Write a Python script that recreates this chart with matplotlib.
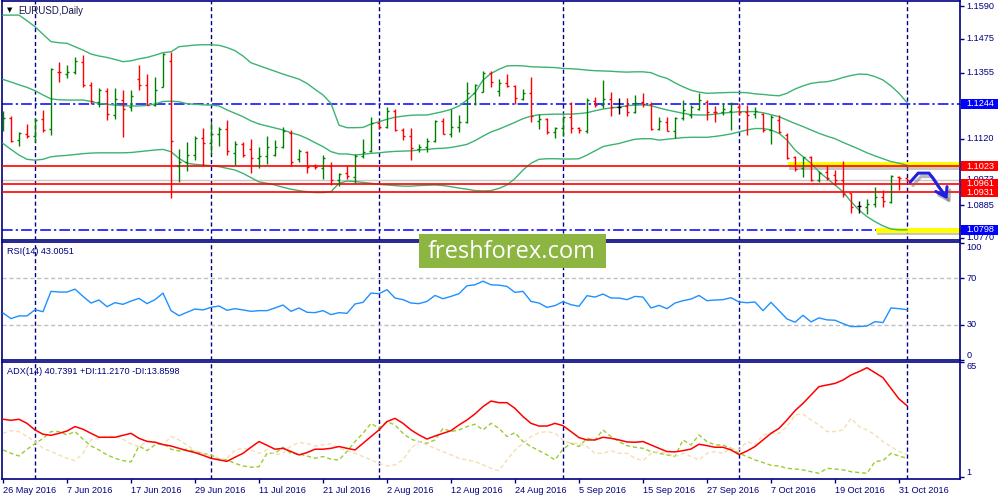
import matplotlib
matplotlib.use('Agg')
import matplotlib.pyplot as plt
import matplotlib.patheffects as pe
from matplotlib.patches import Rectangle
import numpy as np
import pandas as pd

plt.rcParams['font.family'] = ['Liberation Sans', 'DejaVu Sans']

# EURUSD daily bars, 26 May 2016 .. 1 Nov 2016
dates = pd.bdate_range('2016-05-26', '2016-11-01')

open_ = [1.1170, 1.1195, 1.1116, 1.1136, 1.1130, 1.1190, 1.1155, 1.1357, 1.1352, 1.1358,
         1.1394, 1.1313, 1.1251, 1.1291, 1.1205, 1.1258, 1.1234, 1.1334, 1.1312, 1.1241,
         1.1305, 1.1395, 1.1025, 1.1038, 1.1065, 1.1123, 1.1104, 1.1136, 1.1155, 1.1072,
         1.1102, 1.1084, 1.1051, 1.1059, 1.1062, 1.1091, 1.1142, 1.1050, 1.1075, 1.1025,
         1.1016, 1.1025, 1.0974, 1.1000, 1.0985, 1.1060, 1.1077, 1.1178, 1.1162, 1.1220,
         1.1152, 1.1130, 1.1085, 1.1090, 1.1112, 1.1182, 1.1136, 1.1161, 1.1181, 1.1282,
         1.1288, 1.1355, 1.1290, 1.1320, 1.1307, 1.1262, 1.1284, 1.1185, 1.1190, 1.1146,
         1.1158, 1.1197, 1.1158, 1.1149, 1.1256, 1.1240, 1.1260, 1.1234, 1.1238, 1.1217,
         1.1250, 1.1244, 1.1154, 1.1181, 1.1149, 1.1193, 1.1205, 1.1225, 1.1252, 1.1217,
         1.1217, 1.1219, 1.1234, 1.1217, 1.1207, 1.1207, 1.1152, 1.1187, 1.1134, 1.1055,
         1.1016, 1.1055, 1.0975, 1.1004, 1.0992, 1.0975, 1.0930, 1.0882, 1.0880, 1.0889,
         1.0915, 1.0897, 1.0986, 1.0980]
high = [1.1219, 1.1200, 1.1144, 1.1173, 1.1196, 1.1221, 1.1370, 1.1392, 1.1382, 1.1410,
        1.1416, 1.1323, 1.1301, 1.1299, 1.1299, 1.1295, 1.1295, 1.1383, 1.1349, 1.1338,
        1.1423, 1.1428, 1.1084, 1.1110, 1.1131, 1.1160, 1.1179, 1.1163, 1.1189, 1.1114,
        1.1108, 1.1120, 1.1091, 1.1129, 1.1118, 1.1164, 1.1151, 1.1085, 1.1078, 1.1031,
        1.1063, 1.1039, 1.0998, 1.1028, 1.1066, 1.1119, 1.1199, 1.1184, 1.1232, 1.1225,
        1.1160, 1.1160, 1.1102, 1.1122, 1.1187, 1.1193, 1.1225, 1.1205, 1.1321, 1.1314,
        1.1362, 1.1362, 1.1331, 1.1352, 1.1312, 1.1296, 1.1341, 1.1208, 1.1193, 1.1164,
        1.1201, 1.1252, 1.1164, 1.1264, 1.1270, 1.1329, 1.1285, 1.1266, 1.1264, 1.1276,
        1.1282, 1.1252, 1.1199, 1.1199, 1.1199, 1.1258, 1.1240, 1.1282, 1.1258, 1.1237,
        1.1246, 1.1250, 1.1246, 1.1240, 1.1234, 1.1211, 1.1205, 1.1205, 1.1140, 1.1060,
        1.1057, 1.1060, 1.1008, 1.1028, 1.1010, 1.1042, 1.0930, 1.0901, 1.0907, 1.0951,
        1.0939, 1.0992, 1.0989, 1.0980]
low = [1.1149, 1.1110, 1.1096, 1.1124, 1.1110, 1.1143, 1.1135, 1.1323, 1.1337, 1.1352,
       1.1304, 1.1244, 1.1233, 1.1189, 1.1190, 1.1128, 1.1220, 1.1293, 1.1241, 1.1236,
       1.1305, 1.0912, 1.0968, 1.1007, 1.1045, 1.1025, 1.1066, 1.1096, 1.1062, 1.1029,
       1.1057, 1.1001, 1.1018, 1.1033, 1.1058, 1.1088, 1.1025, 1.1038, 1.1000, 1.1014,
       1.0979, 1.0957, 1.0953, 1.0977, 1.0963, 1.1051, 1.1075, 1.1155, 1.1160, 1.1148,
       1.1116, 1.1045, 1.1075, 1.1075, 1.1110, 1.1136, 1.1128, 1.1146, 1.1178, 1.1239,
       1.1285, 1.1303, 1.1272, 1.1305, 1.1244, 1.1258, 1.1181, 1.1156, 1.1136, 1.1122,
       1.1130, 1.1140, 1.1140, 1.1142, 1.1234, 1.1229, 1.1201, 1.1208, 1.1202, 1.1213,
       1.1234, 1.1152, 1.1152, 1.1148, 1.1122, 1.1187, 1.1193, 1.1223, 1.1187, 1.1181,
       1.1205, 1.1152, 1.1205, 1.1134, 1.1193, 1.1146, 1.1101, 1.1140, 1.1048, 1.1008,
       1.0986, 1.0972, 1.0966, 1.0975, 1.0957, 1.0916, 1.0859, 1.0859, 1.0853, 1.0880,
       1.0880, 1.0894, 1.0939, 1.0971]
close = [1.1193, 1.1114, 1.1140, 1.1131, 1.1189, 1.1151, 1.1368, 1.1356, 1.1358, 1.1395,
         1.1312, 1.1254, 1.1293, 1.1208, 1.1261, 1.1225, 1.1274, 1.1310, 1.1242, 1.1295,
         1.1420, 1.1112, 1.1037, 1.1065, 1.1123, 1.1104, 1.1136, 1.1155, 1.1077, 1.1102,
         1.1062, 1.1051, 1.1059, 1.1092, 1.1092, 1.1149, 1.1039, 1.1078, 1.1021, 1.1019,
         1.1051, 1.0974, 1.0996, 1.0990, 1.1060, 1.1075, 1.1178, 1.1164, 1.1220, 1.1152,
         1.1130, 1.1088, 1.1090, 1.1114, 1.1182, 1.1136, 1.1161, 1.1181, 1.1282, 1.1311,
         1.1355, 1.1323, 1.1320, 1.1307, 1.1264, 1.1284, 1.1201, 1.1190, 1.1146, 1.1158,
         1.1197, 1.1158, 1.1152, 1.1258, 1.1240, 1.1260, 1.1232, 1.1234, 1.1217, 1.1246,
         1.1244, 1.1154, 1.1185, 1.1149, 1.1193, 1.1223, 1.1234, 1.1258, 1.1214, 1.1214,
         1.1225, 1.1243, 1.1217, 1.1205, 1.1219, 1.1152, 1.1199, 1.1146, 1.1051, 1.1012,
         1.1055, 1.0975, 1.1001, 1.0983, 1.0975, 1.0924, 1.0880, 1.0882, 1.0889, 1.0915,
         1.0900, 1.0989, 1.0980, 1.0975]

# Bollinger bands (20)
bb_upper = [1.1559, 1.1559, 1.1559, 1.1539, 1.1518, 1.1491, 1.1465, 1.1461, 1.1459, 1.1447,
            1.1435, 1.1421, 1.1414, 1.1409, 1.1402, 1.1394, 1.1397, 1.1404, 1.1409, 1.1417,
            1.1426, 1.1429, 1.1447, 1.1450, 1.1453, 1.1454, 1.1454, 1.1452, 1.1444, 1.1433,
            1.1414, 1.1390, 1.1380, 1.1370, 1.1360, 1.1350, 1.1341, 1.1332, 1.1317, 1.1296,
            1.1276, 1.1246, 1.1169, 1.1160, 1.1160, 1.1161, 1.1173, 1.1181, 1.1190, 1.1197,
            1.1201, 1.1204, 1.1205, 1.1205, 1.1211, 1.1217, 1.1225, 1.1237, 1.1258, 1.1284,
            1.1329, 1.1352, 1.1367, 1.1379, 1.1380, 1.1379, 1.1376, 1.1375, 1.1374, 1.1373,
            1.1370, 1.1369, 1.1367, 1.1364, 1.1362, 1.1361, 1.1360, 1.1358, 1.1357, 1.1358,
            1.1358, 1.1355, 1.1343, 1.1335, 1.1319, 1.1305, 1.1293, 1.1286, 1.1282, 1.1283,
            1.1284, 1.1285, 1.1285, 1.1284, 1.1280, 1.1278, 1.1275, 1.1273, 1.1282, 1.1297,
            1.1308, 1.1317, 1.1321, 1.1323, 1.1329, 1.1338, 1.1345, 1.1350, 1.1349, 1.1341,
            1.1329, 1.1308, 1.1282, 1.1249]
bb_middle = [1.1331, 1.1322, 1.1312, 1.1303, 1.1291, 1.1276, 1.1262, 1.1259, 1.1258, 1.1258,
             1.1258, 1.1253, 1.1246, 1.1243, 1.1240, 1.1238, 1.1237, 1.1237, 1.1239, 1.1244,
             1.1253, 1.1254, 1.1252, 1.1245, 1.1243, 1.1241, 1.1240, 1.1237, 1.1223, 1.1211,
             1.1199, 1.1184, 1.1173, 1.1166, 1.1159, 1.1152, 1.1142, 1.1134, 1.1122, 1.1107,
             1.1093, 1.1075, 1.1067, 1.1067, 1.1063, 1.1066, 1.1069, 1.1071, 1.1074, 1.1076,
             1.1077, 1.1078, 1.1081, 1.1083, 1.1086, 1.1087, 1.1090, 1.1095, 1.1101, 1.1114,
             1.1130, 1.1145, 1.1155, 1.1167, 1.1179, 1.1192, 1.1201, 1.1206, 1.1207, 1.1208,
             1.1208, 1.1208, 1.1210, 1.1213, 1.1220, 1.1226, 1.1230, 1.1233, 1.1238, 1.1240,
             1.1241, 1.1238, 1.1230, 1.1223, 1.1217, 1.1211, 1.1206, 1.1205, 1.1205, 1.1208,
             1.1212, 1.1214, 1.1217, 1.1217, 1.1217, 1.1213, 1.1206, 1.1199, 1.1187, 1.1175,
             1.1164, 1.1152, 1.1140, 1.1130, 1.1121, 1.1108, 1.1096, 1.1084, 1.1071, 1.1060,
             1.1050, 1.1040, 1.1034, 1.1027]
bb_lower = [1.1104, 1.1083, 1.1063, 1.1048, 1.1045, 1.1048, 1.1057, 1.1060, 1.1062, 1.1065,
            1.1068, 1.1070, 1.1071, 1.1071, 1.1071, 1.1071, 1.1072, 1.1075, 1.1078, 1.1081,
            1.1083, 1.1075, 1.1051, 1.1034, 1.1030, 1.1028, 1.1025, 1.1022, 1.1016, 1.1010,
            1.0998, 1.0983, 1.0968, 1.0963, 1.0957, 1.0949, 1.0942, 1.0937, 1.0933, 1.0930,
            1.0930, 1.0933, 1.0963, 1.0971, 1.0969, 1.0966, 1.0963, 1.0959, 1.0957, 1.0955,
            1.0953, 1.0953, 1.0955, 1.0956, 1.0957, 1.0955, 1.0951, 1.0946, 1.0942, 1.0937,
            1.0936, 1.0937, 1.0945, 1.0957, 1.0980, 1.1010, 1.1034, 1.1048, 1.1050, 1.1050,
            1.1049, 1.1049, 1.1050, 1.1063, 1.1078, 1.1093, 1.1099, 1.1104, 1.1112, 1.1119,
            1.1121, 1.1121, 1.1116, 1.1119, 1.1122, 1.1125, 1.1126, 1.1126, 1.1126, 1.1129,
            1.1133, 1.1138, 1.1145, 1.1152, 1.1157, 1.1157, 1.1152, 1.1140, 1.1116, 1.1081,
            1.1057, 1.1034, 1.1004, 1.0980, 1.0957, 1.0933, 1.0898, 1.0868, 1.0845, 1.0827,
            1.0812, 1.0801, 1.0798, 1.0798]

rsi = [40.2, 35.4, 37.7, 37.7, 43.0, 41.3, 58.7, 58.1, 58.1, 60.6,
       54.4, 48.7, 51.3, 45.6, 49.0, 47.6, 50.4, 52.7, 48.2, 51.6,
       57.2, 42.2, 37.9, 40.8, 43.6, 42.8, 45.0, 46.2, 42.5, 43.9,
       42.8, 41.6, 42.2, 42.2, 44.5, 47.0, 41.6, 44.5, 40.8, 40.5,
       42.2, 38.8, 40.5, 39.9, 47.9, 49.3, 57.2, 56.7, 60.1, 53.0,
       51.6, 48.7, 48.2, 50.1, 55.2, 52.4, 54.4, 56.7, 63.5, 64.3,
       67.4, 64.3, 64.0, 62.9, 57.8, 58.7, 50.1, 48.7, 45.0, 46.5,
       49.9, 47.3, 45.9, 55.0, 53.8, 56.4, 53.0, 53.0, 51.6, 54.4,
       53.8, 44.5, 46.7, 43.9, 48.7, 50.7, 52.1, 55.2, 50.7, 51.3,
       51.6, 53.3, 49.6, 49.0, 49.6, 42.2, 49.3, 42.2, 35.1, 32.3,
       38.2, 32.6, 36.0, 34.3, 34.0, 31.1, 28.6, 28.6, 29.1, 32.8,
       32.0, 44.5, 43.9, 43.0]

adx = [33.1, 32.5, 33.1, 30.8, 27.1, 24.7, 24.1, 25.2, 26.5, 29.0,
       27.5, 25.2, 23.0, 23.0, 23.0, 24.1, 25.2, 22.4, 20.7, 20.2,
       18.9, 18.1, 16.8, 15.5, 14.4, 12.9, 11.2, 10.3, 9.5, 11.8,
       14.0, 17.4, 20.6, 18.5, 16.3, 16.8, 15.0, 13.1, 14.4, 16.3,
       16.3, 16.8, 17.8, 16.8, 15.9, 19.6, 23.4, 27.1, 31.8, 33.6,
       30.8, 27.1, 24.3, 22.0, 23.7, 25.2, 26.7, 29.9, 32.7, 36.1,
       40.2, 43.3, 42.4, 42.4, 39.2, 34.6, 30.8, 29.3, 29.3, 30.8,
       29.5, 26.2, 22.8, 21.5, 21.5, 23.0, 22.4, 21.5, 20.4, 20.2,
       20.6, 18.7, 16.8, 15.0, 14.8, 15.5, 16.4, 19.1, 18.3, 17.4,
       17.4, 15.9, 13.3, 15.3, 17.8, 21.5, 25.2, 28.0, 32.7, 37.9,
       42.0, 46.7, 51.4, 52.3, 53.2, 55.1, 57.9, 59.8, 62.0, 59.2,
       56.4, 50.4, 44.5, 40.7]
plus_di = [15.9, 14.0, 12.5, 16.3, 19.3, 22.4, 26.2, 26.2, 24.3, 26.2,
           21.9, 18.1, 15.9, 13.1, 11.2, 9.9, 9.2, 18.1, 15.5, 18.7,
           19.6, 16.3, 15.3, 16.3, 15.0, 14.0, 13.1, 10.8, 10.3, 8.4,
           6.9, 6.2, 6.5, 14.0, 14.0, 17.4, 14.0, 13.6, 12.5, 11.2,
           12.2, 10.7, 10.3, 15.0, 20.6, 25.2, 30.8, 28.0, 31.8, 29.9,
           25.2, 21.9, 20.6, 19.6, 21.5, 28.0, 26.2, 27.1, 29.0, 30.3,
           27.1, 30.8, 28.0, 23.4, 25.6, 20.6, 17.8, 15.5, 13.1, 10.3,
           16.3, 19.6, 17.8, 22.4, 21.5, 27.1, 23.4, 20.6, 18.3, 17.4,
           16.8, 15.0, 14.0, 13.1, 12.2, 21.5, 18.7, 24.3, 20.6, 18.7,
           18.7, 16.8, 14.0, 12.2, 10.3, 8.8, 7.3, 6.9, 5.6, 5.2,
           4.7, 3.7, 2.8, 5.6, 5.2, 4.7, 3.7, 3.2, 2.8, 9.4,
           9.9, 14.0, 12.5, 11.2]
minus_di = [25.2, 26.7, 26.2, 23.4, 20.6, 16.8, 15.0, 13.1, 11.2, 9.9,
            14.0, 21.5, 22.4, 23.7, 23.4, 21.9, 19.3, 17.8, 20.6, 20.6,
            18.7, 23.4, 21.5, 18.7, 15.5, 14.0, 12.2, 10.3, 11.2, 15.9,
            16.8, 15.9, 14.0, 15.9, 13.1, 14.0, 18.1, 20.0, 19.6, 18.1,
            18.7, 19.3, 16.8, 15.5, 14.0, 12.2, 10.3, 8.4, 6.9, 7.5,
            10.3, 16.8, 20.6, 18.7, 16.8, 15.0, 13.1, 11.2, 10.3, 9.4,
            7.5, 5.6, 4.3, 10.3, 15.9, 19.6, 23.4, 25.6, 26.2, 25.2,
            21.5, 19.6, 19.6, 17.8, 14.0, 14.0, 15.5, 14.0, 14.0, 11.2,
            9.9, 14.0, 15.0, 14.0, 12.2, 14.0, 12.2, 10.3, 14.0, 15.0,
            14.0, 16.8, 15.9, 20.6, 18.7, 24.3, 25.2, 25.2, 29.0, 35.5,
            36.1, 32.7, 29.9, 26.2, 26.2, 27.1, 33.6, 29.0, 27.1, 24.3,
            20.6, 17.8, 15.0, 13.5]

# drawn levels
resist = [1.1023, 1.0961, 1.0931]
blue_levels = [1.1244, 1.0798]
bid = 1.0973
plain_prices = [1.1590, 1.1475, 1.1355, 1.1120, 1.0885, 1.0770]
# hand drawn forecast arrow (bar index, price)
arrow_x = [113.4, 114.4, 115.75, 116.25, 116.9, 117.85]
arrow_y = [1.0967, 1.0999, 1.0999, 1.0981, 1.0953, 1.0916]
head_x = [116.6, 117.9, 118.0]
head_y = [1.0934, 1.0914, 1.0951]

NAVY = '#000080'
FS = 6.6
PX = 0.0003544   # price per screen pixel in the main panel
n = len(dates)
x = np.arange(n)
month_starts = [i for i in range(1, n) if dates[i].month != dates[i - 1].month]

fig = plt.figure(figsize=(10, 5), dpi=100)


def px_axes(x0, y0, x1, y1):
    return fig.add_axes([x0 / 1000, 1 - y1 / 500, (x1 - x0) / 1000, (y1 - y0) / 500])


ax = px_axes(2, 1, 960, 240)
ax_rsi = px_axes(2, 242, 960, 360)
ax_adx = px_axes(2, 362, 960, 479)

for a in (ax, ax_rsi, ax_adx):
    a.set_xlim(-0.125, 119.625)
    for s in a.spines.values():
        s.set_color(NAVY)
        s.set_linewidth(1.2)
    a.tick_params(axis='x', bottom=False, labelbottom=False)
    a.tick_params(axis='y', left=False, labelleft=False, right=True, labelright=False,
                  length=3, width=1, color=NAVY)
    for i in month_starts:
        a.axvline(i, color=NAVY, lw=1, ls=(0, (3, 2)), zorder=1)


def right_label(a, val, text, va='center', z=5):
    a.text(1.007, val, text, color=NAVY, transform=a.get_yaxis_transform(), ha='left', va=va,
           fontsize=FS, clip_on=False, zorder=z)


def boxed_label(a, val, text, fc):
    tr = a.get_yaxis_transform()
    a.add_patch(Rectangle((1.0012, val - 5 * PX), 0.0385, 10 * PX, transform=tr, facecolor=fc,
                          edgecolor='none', clip_on=False, zorder=6))
    a.text(1.007, val, text, color='white', transform=tr, ha='left', va='center',
           fontsize=FS, clip_on=False, zorder=7)


# ---- price panel
ax.set_ylim(1.0762, 1.1609)
cols = ['#008000' if c > o else '#FF0000' if c < o else 'black' for o, c in zip(open_, close)]
ax.vlines(x, low, high, colors=cols, lw=1, zorder=4)
ax.hlines(open_, x - 0.3, x, colors=cols, lw=1, zorder=4)
ax.hlines(close, x, x + 0.3, colors=cols, lw=1, zorder=4)

for band in (bb_upper, bb_middle, bb_lower):
    ax.plot(x, band, color='#3CB371', lw=1, zorder=3)

for lv in blue_levels:
    ax.axhline(lv, color='#0000FF', lw=1.1, ls=(0, (7, 2, 1.5, 2)), zorder=2)
ax.axhline(bid, color='#C8C8C8', lw=1, zorder=2)
for lv in resist:
    ax.axhline(lv, color='#FF0000', lw=1.2, zorder=3.5)

shadow = [pe.SimplePatchShadow(offset=(1, -1.6), shadow_rgbFace='#808080', alpha=0.45), pe.Normal()]
ax.axhspan(1.1019, 1.1039, xmin=0.8205, xmax=1, color='#FFFF00', lw=0, zorder=2.5, path_effects=shadow)
ax.axhspan(1.0786, 1.0803, xmin=0.912, xmax=1, color='#FFFF00', lw=0, zorder=2.5, path_effects=shadow)

lshadow = [pe.SimpleLineShadow(offset=(2, -2.5), shadow_color='#707070', alpha=0.5), pe.Normal()]
ax.plot(arrow_x, arrow_y, color='#2020E0', lw=2.2, solid_capstyle='round', solid_joinstyle='round',
        zorder=7, path_effects=lshadow)
ax.plot(head_x, head_y, color='#2020E0', lw=2.2, solid_capstyle='round', solid_joinstyle='round',
        zorder=7, path_effects=lshadow)

ax.set_yticks(plain_prices + resist + blue_levels)
for p in plain_prices:
    right_label(ax, p, f'{p:.4f}')
right_label(ax, bid + 1.2 * PX, f'{bid:.4f}', z=4)
for lv in resist:
    boxed_label(ax, lv, f'{lv:.4f}', '#FF0000')
for lv in blue_levels:
    boxed_label(ax, lv, f'{lv:.4f}', '#0000FF')

# ---- RSI panel
ax_rsi.set_ylim(0.5, 100.9)
for lv in (70, 30):
    ax_rsi.axhline(lv, color='#C0C0C0', lw=1, ls=(0, (3, 2)), zorder=1)
ax_rsi.plot(x, rsi, color='#1E90FF', lw=1, zorder=3)
ax_rsi.set_yticks([100, 70, 30, 0])
right_label(ax_rsi, 100, '100', va='top')
right_label(ax_rsi, 70, '70')
right_label(ax_rsi, 30, '30')
right_label(ax_rsi, 0, '0', va='bottom')

# ---- ADX panel
ax_adx.set_ylim(-0.4, 65.2)
ax_adx.plot(x, plus_di, color='#9ACD32', lw=1, ls=(0, (3, 2)), zorder=2)
ax_adx.plot(x, minus_di, color='#F5DEB3', lw=1, ls=(0, (3, 2)), zorder=2)
ax_adx.plot(x, adx, color='#FF0000', lw=1.1, zorder=3)
ax_adx.set_yticks([65, 1])
right_label(ax_adx, 65, '65', va='top')
right_label(ax_adx, 1, '1', va='bottom')

ticks = x[::8]
ax_adx.set_xticks(ticks, [f'{dates[i].day} {dates[i]:%b %Y}' for i in ticks])
ax_adx.tick_params(axis='x', bottom=True, labelbottom=True, length=3, width=1, color=NAVY,
                   labelsize=FS, labelcolor=NAVY, pad=2)
for lbl in ax_adx.get_xticklabels():
    lbl.set_ha('left')

# ---- titles
fig.text(0.0065, 1 - 10.5 / 500, '▼', fontsize=5, color='black', va='center', family=['DejaVu Sans'])
fig.text(0.018, 1 - 11 / 500, 'EURUSD,Daily', fontsize=FS + 0.3, color='#14144a', va='center')
fig.text(0.007, 1 - 252 / 500, 'RSI(14) 43.0051', fontsize=FS, color=NAVY, va='center')
fig.text(0.007, 1 - 372 / 500, 'ADX(14) 40.7391 +DI:11.2170 -DI:13.8598', fontsize=FS, color=NAVY,
         va='center')

# ---- watermark
fig.patches.append(Rectangle((0.419, 1 - 268 / 500), 0.187, 34 / 500, transform=fig.transFigure,
                             facecolor='#8DB541', edgecolor='none', zorder=10))
fig.text(0.512, 1 - 252 / 500, 'freshforex.com', fontsize=17, color='white', ha='center', va='center',
         family=['Open Sans', 'DejaVu Sans'], zorder=11)

fig.savefig('out.png', dpi=100, facecolor='white')
